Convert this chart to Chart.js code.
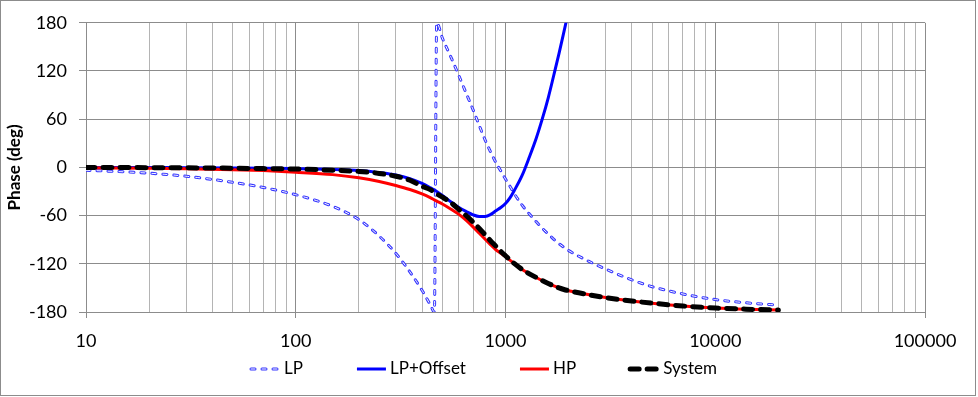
<!DOCTYPE html>
<html>
<head>
<meta charset="utf-8">
<script src="https://cdn.jsdelivr.net/npm/chart.js@4/dist/chart.umd.min.js"></script>
<style>
  html, body { margin: 0; padding: 0; background: #fff; }
</style>
</head>
<body>
<canvas id="phase-chart" width="978" height="397"></canvas>
<script>
// Frequencies (Hz) shared by every series
const freqs = [10, 20, 30, 50, 70, 100, 150, 200, 250, 300, 350, 400, 440, 458, 470, 500, 550, 600, 650, 700,
  750, 800, 850, 900, 950, 1000, 1050, 1100, 1200, 1300, 1400, 1500, 1600, 1700, 1800, 1900, 2000, 2500, 3000, 4000,
  5000, 7000, 10000, 14000, 20000];

// Phase in degrees
const lpPhase = [-3.5, -7.2, -11, -18.5, -25, -34, -48.5, -65, -85.5, -107, -130, -153, -172, -180, 180, 161, 137, 114, 92, 72,
  52, 34, 19, 6, -4.5, -14.5, -23.5, -32.5, -47, -58, -67.5, -76, -83, -89.5, -95, -99.5, -103.5, -117, -126.5, -140,
  -148.5, -157.5, -164.5, -168.5, -171.5];
const lpOffsetPhase = [0, 0, -0.3, -0.7, -1, -1.5, -2.5, -4, -6.5, -9.5, -14, -20, -25.5, -28, -30, -35, -43, -50, -55, -59,
  -61, -61, -58.5, -54, -50, -45, -38, -29, -10, 13, 36, 61, 87, 115, 142, 169, 195, null, null, null,
  null, null, null, null, null];
const hpPhase = [-0.5, -1, -1.6, -2.8, -4, -6, -9, -13, -17.5, -22.5, -27.5, -33, -38, -40.5, -42, -45.5, -52, -58.5, -66, -74,
  -82, -89.5, -96.5, -102.5, -107, -111, -115.5, -119.5, -127, -132.5, -137, -141, -144.5, -147.5, -150, -152, -153.5, -158.5, -162, -166.3,
  -169, -172.5, -175, -176.5, -177.5];
const systemPhase = [0, -0.3, -0.5, -1, -1.5, -2, -3.5, -5, -7.5, -11, -16, -23.5, -28, -31, -33, -37, -44, -52.5, -60, -68,
  -76, -84, -91.5, -98, -104.5, -110, -115, -119.5, -127, -132.5, -137, -141, -144.5, -147.5, -150, -152, -153.5, -158.5, -162, -166.3,
  -169, -172.5, -175, -176.5, -177.5];

const xDecades = [10, 100, 1000, 10000, 100000];
const yTicks = [-180, -120, -60, 0, 60, 120, 180];

const MAJOR = '#8c8c8c';
const MINOR = '#b4b4b4';
const FONT = 'Lato';

// minor grid positions 1..9 x decade
const xGrid = [];
xDecades.forEach((d, i) => {
  if (i === xDecades.length - 1) { xGrid.push(d); return; }
  for (let m = 1; m < 10; m++) xGrid.push(m * d);
});

function points(values) {
  return freqs.map((f, i) => ({ x: f, y: values[i] })).filter(p => p.y !== null);
}

const frame = {
  id: 'frame',
  beforeDraw(chart) {
    const ctx = chart.ctx;
    ctx.save();
    ctx.fillStyle = '#fff';
    ctx.fillRect(0, 0, chart.width, chart.height);
    ctx.strokeStyle = MAJOR;
    ctx.lineWidth = 1;
    ctx.strokeRect(0.5, 0.5, chart.width - 3, chart.height - 2);
    ctx.restore();
  }
};

// Excel-like legend row under the axis
const bottomLegend = {
  id: 'bottomLegend',
  afterDraw(chart) {
    const ctx = chart.ctx;
    const sets = chart.data.datasets;
    const items = sets.filter(d => !d.legendSkip);
    const sample = 29, textGap = 4, itemGap = 54, y = 369;
    ctx.save();
    ctx.font = '17px ' + FONT;
    const widths = items.map(d => sample + textGap + ctx.measureText(d.label).width);
    const total = widths.reduce((a, b) => a + b, 0) + itemGap * (items.length - 1);
    let x = Math.round(484 - total / 2);
    items.forEach((d, i) => {
      const strokes = [d].concat(sets.filter(s => s.legendSkip && s.label === d.label));
      strokes.forEach(s => {
        ctx.beginPath();
        ctx.strokeStyle = s.borderColor;
        ctx.lineWidth = s.borderWidth;
        ctx.lineCap = s.borderCapStyle || 'butt';
        ctx.setLineDash(s.borderDash || []);
        ctx.moveTo(x, y);
        ctx.lineTo(x + sample, y);
        ctx.stroke();
      });
      ctx.setLineDash([]);
      ctx.fillStyle = '#000';
      ctx.textBaseline = 'middle';
      ctx.fillText(d.label, x + sample + textGap, y);
      x += widths[i] + itemGap;
    });
    ctx.restore();
  }
};

const ctx = document.getElementById('phase-chart').getContext('2d');

new Chart(ctx, {
  type: 'line',
  data: {
    datasets: [
      {
        label: 'LP', data: points(lpPhase), borderColor: '#3535ff', borderWidth: 3,
        borderDash: [4, 7], borderCapStyle: 'round', order: 6
      },
      {
        label: 'LP', legendSkip: true, data: points(lpPhase), borderColor: '#ffffff', borderWidth: 1,
        borderDash: [4, 7], borderCapStyle: 'round', order: 5
      },
      { label: 'LP+Offset', data: points(lpOffsetPhase), borderColor: '#0000ff', borderWidth: 3, order: 4 },
      { label: 'HP', data: points(hpPhase), borderColor: '#ff0000', borderWidth: 3, order: 3 },
      {
        label: 'System', data: points(systemPhase), borderColor: '#000000', borderWidth: 5,
        borderDash: [9, 8], borderCapStyle: 'round', order: 2
      }
    ]
  },
  options: {
    responsive: false,
    devicePixelRatio: 1,
    animation: false,
    parsing: false,
    elements: {
      point: { radius: 0 },
      line: { cubicInterpolationMode: 'monotone', fill: false }
    },
    layout: { padding: { top: 21, right: 53, bottom: 0, left: 0 } },
    plugins: {
      legend: { display: false },
      tooltip: { enabled: false }
    },
    scales: {
      x: {
        type: 'logarithmic',
        min: 10,
        max: 100000,
        afterBuildTicks(scale) {
          scale.ticks = xGrid.map(v => ({ value: v, major: xDecades.includes(v) }));
        },
        afterFit(scale) { scale.height = 85; },
        ticks: {
          autoSkip: false,
          maxRotation: 0,
          padding: 12,
          color: '#000',
          font: { family: FONT, size: 18 },
          callback: v => (xDecades.includes(v) ? String(v) : '')
        },
        grid: {
          color: c => (c.tick && c.tick.major ? MAJOR : MINOR),
          tickColor: c => (c.tick && c.tick.major ? MAJOR : 'rgba(0,0,0,0)'),
          tickLength: 6
        },
        border: { color: MAJOR }
      },
      y: {
        min: -180,
        max: 180,
        afterBuildTicks(scale) {
          scale.ticks = yTicks.map(v => ({ value: v }));
        },
        afterFit(scale) { scale.width = 86; },
        ticks: { padding: 12, color: '#000', font: { family: FONT, size: 18 } },
        grid: { color: MAJOR, tickLength: 7 },
        border: { color: MAJOR },
        title: {
          display: true,
          text: 'Phase (deg)',
          color: '#000',
          font: { family: FONT, size: 17, weight: 'bold' },
          padding: { top: 4, bottom: 0 }
        }
      }
    }
  },
  plugins: [frame, bottomLegend]
});
</script>
</body>
</html>
